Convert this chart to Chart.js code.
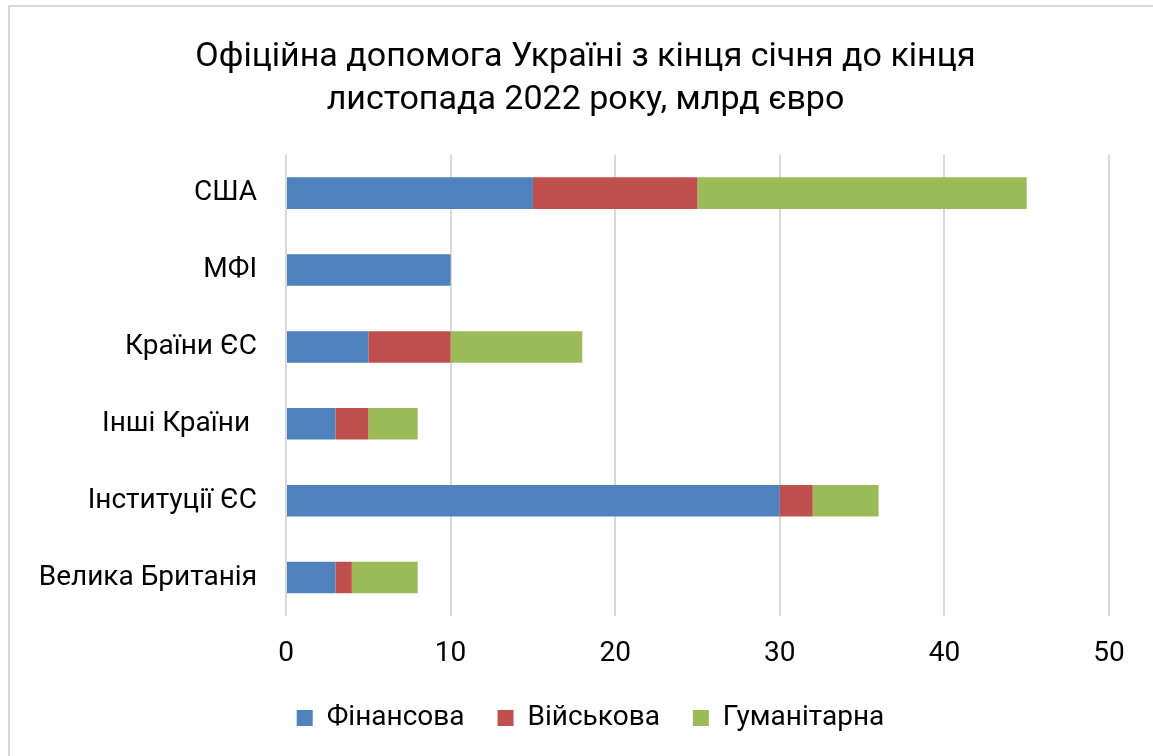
<!DOCTYPE HTML>
<html lang="uk">
<head>
    <meta charset="UTF-8">
    <title>Офіційна допомога Україні</title>
    <script src="https://cdn.jsdelivr.net/npm/chart.js"></script>
    <style>
        html, body { margin: 0; padding: 0; background: #fff; overflow: hidden; }
        .frame {
            position: absolute; left: 8px; top: 5px;
            width: 1300px; height: 900px;
            border: 2px solid #d9d9d9;
        }
        .wrap { position: absolute; left: 0; top: 0; width: 1153px; height: 756px; }
    </style>
</head>
<body>
<div class="frame"></div>
<div class="wrap">
    <canvas id="aidChart"></canvas>
</div>

<script>
    // дані, млрд євро
    const donors = ['США', 'МФІ', 'Країни ЄС', 'Інші Країни ', 'Інституції ЄС', 'Велика Британія'];
    const financial = [15, 10, 5, 3, 30, 3];
    const military = [10, 0, 5, 2, 2, 1];
    const humanitarian = [20, 0, 8, 3, 4, 4];
    const xTicks = [0, 10, 20, 30, 40, 50];

    const font = 'Roboto, "Noto Sans", sans-serif';

    // заголовок і легенда в оригіналі трохи зсунуті вправо
    const shiftTitleLegend = {
        id: 'shiftTitleLegend',
        beforeDraw(chart) {
            [[chart.titleBlock, 31], [chart.legend, 36]].forEach(([b, dx]) => {
                if (b && !b._shifted) { b.left += dx; b.right += dx; b._shifted = true; }
            });
        },
        afterLayout(chart) {
            [chart.titleBlock, chart.legend].forEach(b => { if (b) b._shifted = false; });
        }
    };

    const ctx = document.getElementById('aidChart').getContext('2d');
    new Chart(ctx, {
        type: 'bar',
        data: {
            labels: donors,
            datasets: [
                { label: 'Фінансова', data: financial, backgroundColor: '#4f81bd' },
                { label: 'Військова', data: military, backgroundColor: '#c0504d' },
                { label: 'Гуманітарна', data: humanitarian, backgroundColor: '#9bbb59' }
            ]
        },
        plugins: [shiftTitleLegend],
        options: {
            indexAxis: 'y',
            responsive: true,
            maintainAspectRatio: false,
            animation: false,
            datasets: { bar: { barPercentage: 0.41, categoryPercentage: 1 } },
            layout: { padding: { left: 0, right: 44, top: 36, bottom: 14 } },
            plugins: {
                tooltip: { enabled: false },
                title: {
                    display: true,
                    text: ['Офіційна допомога Україні з кінця січня до кінця', 'листопада 2022 року, млрд євро'],
                    color: '#000',
                    font: { family: font, size: 34, weight: 'normal', lineHeight: 1.26 },
                    padding: { top: 0, bottom: 33 }
                },
                legend: {
                    position: 'bottom',
                    labels: {
                        color: '#000',
                        font: { family: font, size: 28 },
                        boxWidth: 16,
                        boxHeight: 16,
                        padding: 33
                    }
                }
            },
            scales: {
                x: {
                    stacked: true,
                    min: 0,
                    max: 50,
                    afterBuildTicks: s => { s.ticks = xTicks.map(v => ({ value: v })); },
                    afterFit: s => { s.height = 55; },
                    grid: { color: '#d9d9d9', lineWidth: 2, drawTicks: false },
                    border: { display: false },
                    ticks: { color: '#000', font: { family: font, size: 28 }, padding: 21 }
                },
                y: {
                    stacked: true,
                    afterFit: s => { s.width = 286; },
                    grid: { display: false },
                    border: { display: false },
                    ticks: { color: '#000', font: { family: font, size: 28 }, padding: 21 }
                }
            }
        }
    });
</script>
</body>
</html>
